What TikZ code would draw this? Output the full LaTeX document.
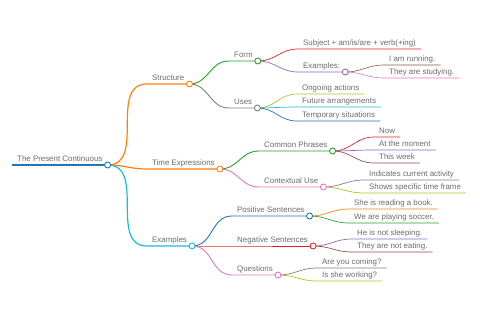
\documentclass[tikz,border=0pt]{standalone}
\usepackage{fontspec}
\setmainfont{Liberation Sans}
\usetikzlibrary{positioning}
\definecolor{mblue}{HTML}{1F77B4}
\definecolor{morange}{HTML}{FF7F0E}
\definecolor{mgreen}{HTML}{2CA02C}
\definecolor{mred}{HTML}{D62728}
\definecolor{mpurple}{HTML}{9467BD}
\definecolor{mbrown}{HTML}{8C564B}
\definecolor{mpink}{HTML}{E377C2}
\definecolor{mgray}{HTML}{7F7F7F}
\definecolor{molive}{HTML}{BCBD22}
\definecolor{mcyan}{HTML}{17BECF}

\begin{document}
\begin{tikzpicture}[x=1pt,y=-1pt,
  item/.style={anchor=south west, inner xsep=5pt, inner ysep=3pt, text depth=0pt,
    text=black!58, font=\fontsize{7.9}{9}\selectfont},
  link/.style={out=0, in=180, looseness=1.1},
  knob/.style={fill=white, line width=0.9pt}]
\useasboundingbox (0,0) rectangle (480,320);
% root
\node[item] (root) at (12,165) {The Present Continuous};
% first level
\node[item] (structure) at (147,84) {Structure};
\node[item] (timeexp) at (147,169) {Time Expressions};
\node[item] (examples) at (147,246) {Examples};
% Structure
\node[item] (form) at (229,61) {Form};
\node[item] (uses) at (229,108) {Uses};
\node[item] (subject) at (298,49) {Subject + am/is/are + verb(+ing)};
\node[item] (formex) at (298,72) {Examples:};
\node[item] (running) at (384,65) {I am running.};
\node[item] (studying) at (384,78) {They are studying.};
\node[item] (ongoing) at (297,94) {Ongoing actions};
\node[item] (future) at (297,107) {Future arrangements};
\node[item] (temporary) at (297,121) {Temporary situations};
% Time Expressions
\node[item] (common) at (259,151) {Common Phrases};
\node[item] (context) at (259,187) {Contextual Use};
\node[item] (now) at (374,137) {Now};
\node[item] (moment) at (374,150) {At the moment};
\node[item] (week) at (374,163) {This week};
\node[item] (current) at (364,180) {Indicates current activity};
\node[item] (frame) at (364,193) {Shows specific time frame};
% Examples
\node[item] (positive) at (232,216) {Positive Sentences};
\node[item] (negative) at (232,246) {Negative Sentences};
\node[item] (questions) at (232,275) {Questions};
\node[item] (reading) at (349,209) {She is reading a book.};
\node[item] (soccer) at (349,223) {We are playing soccer.};
\node[item] (sleeping) at (352,239) {He is not sleeping.};
\node[item] (eating) at (352,252) {They are not eating.};
\node[item] (coming) at (317,268) {Are you coming?};
\node[item] (working) at (317,281) {Is she working?};

% links and underlines
\draw[mblue, line width=1.5pt] (root.south west) -- (root.south east);
\draw[morange, line width=1.2pt] (root.south east) to[link] (structure.south west) -- (structure.south east);
\draw[morange, line width=1.2pt] (root.south east) to[link] (timeexp.south west) -- (timeexp.south east);
\draw[mcyan, line width=1.2pt] (root.south east) to[link] (examples.south west) -- (examples.south east);

\draw[mgreen, line width=0.9pt] (structure.south east) to[link] (form.south west) -- (form.south east);
\draw[mgray, line width=0.9pt] (structure.south east) to[link] (uses.south west) -- (uses.south east);
\draw[mred, line width=0.7pt] (form.south east) to[link] (subject.south west) -- (subject.south east);
\draw[mpurple, line width=0.7pt] (form.south east) to[link] (formex.south west) -- (formex.south east);
\draw[mbrown, line width=0.6pt] (formex.south east) to[link] (running.south west) -- (running.south east);
\draw[mpink, line width=0.6pt] (formex.south east) to[link] (studying.south west) -- (studying.south east);
\draw[molive, line width=0.7pt] (uses.south east) to[link] (ongoing.south west) -- (ongoing.south east);
\draw[mcyan, line width=0.7pt] (uses.south east) to[link] (future.south west) -- (future.south east);
\draw[mblue, line width=0.7pt] (uses.south east) to[link] (temporary.south west) -- (temporary.south east);

\draw[mgreen, line width=0.9pt] (timeexp.south east) to[link] (common.south west) -- (common.south east);
\draw[mpink, line width=0.9pt] (timeexp.south east) to[link] (context.south west) -- (context.south east);
\draw[mred, line width=0.7pt] (common.south east) to[link] (now.south west) -- (now.south east);
\draw[mpurple, line width=0.7pt] (common.south east) to[link] (moment.south west) -- (moment.south east);
\draw[mbrown, line width=0.7pt] (common.south east) to[link] (week.south west) -- (week.south east);
\draw[mgray, line width=0.7pt] (context.south east) to[link] (current.south west) -- (current.south east);
\draw[molive, line width=0.7pt] (context.south east) to[link] (frame.south west) -- (frame.south east);

\draw[mblue, line width=0.9pt] (examples.south east) to[link] (positive.south west) -- (positive.south east);
\draw[mred, line width=0.9pt] (examples.south east) to[link] (negative.south west) -- (negative.south east);
\draw[mpink, line width=0.9pt] (examples.south east) to[link] (questions.south west) -- (questions.south east);
\draw[morange, line width=0.7pt] (positive.south east) to[link] (reading.south west) -- (reading.south east);
\draw[mgreen, line width=0.7pt] (positive.south east) to[link] (soccer.south west) -- (soccer.south east);
\draw[mpurple, line width=0.7pt] (negative.south east) to[link] (sleeping.south west) -- (sleeping.south east);
\draw[mbrown, line width=0.7pt] (negative.south east) to[link] (eating.south west) -- (eating.south east);
\draw[mgray, line width=0.7pt] (questions.south east) to[link] (coming.south west) -- (coming.south east);
\draw[molive, line width=0.7pt] (questions.south east) to[link] (working.south west) -- (working.south east);

% circles
\draw[mblue, knob] (root.south east) circle (3);
\draw[morange, knob] (structure.south east) circle (3);
\draw[morange, knob] (timeexp.south east) circle (3);
\draw[mcyan, knob] (examples.south east) circle (3);
\draw[mgreen, knob] (form.south east) circle (3);
\draw[mgray, knob] (uses.south east) circle (3);
\draw[mpurple, knob] (formex.south east) circle (3);
\draw[mgreen, knob] (common.south east) circle (3);
\draw[mpink, knob] (context.south east) circle (3);
\draw[mblue, knob] (positive.south east) circle (3);
\draw[mred, knob] (negative.south east) circle (3);
\draw[mpink, knob] (questions.south east) circle (3);
\end{tikzpicture}
\end{document}
